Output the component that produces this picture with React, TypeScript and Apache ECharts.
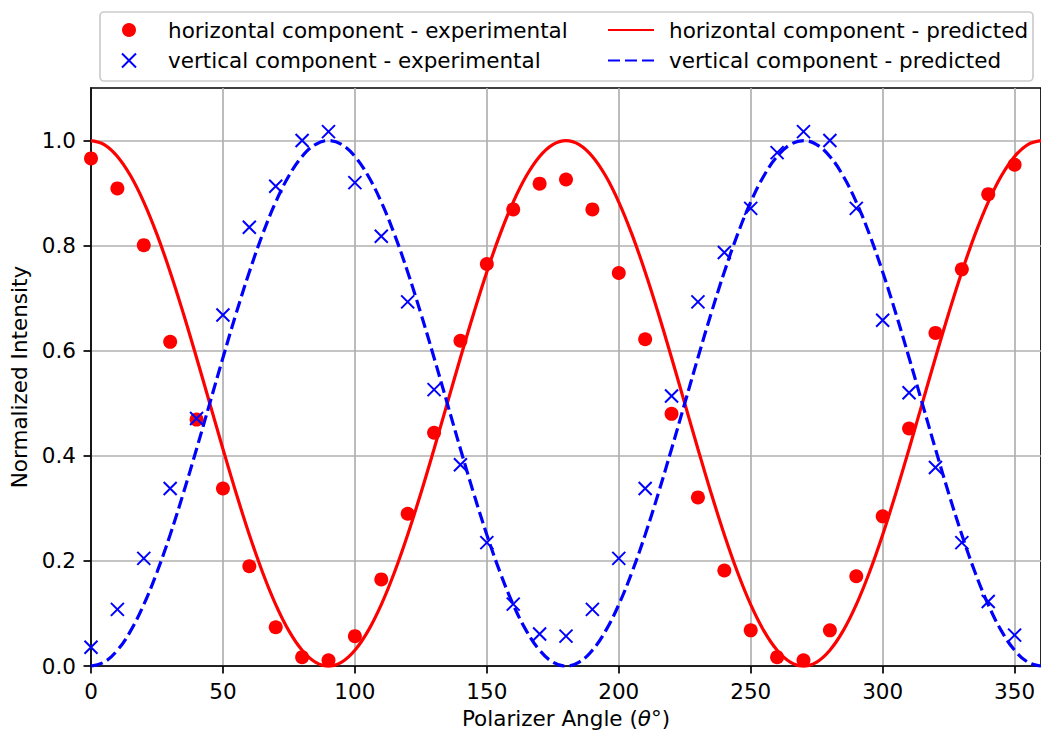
import React, { useEffect, useRef } from "react";
import * as echarts from "echarts";

const angles = [0, 10, 20, 30, 40, 50, 60, 70, 80, 90, 100, 110, 120, 130, 140, 150, 160, 170, 180, 190, 200, 210, 220, 230, 240, 250, 260, 270, 280, 290, 300, 310, 320, 330, 340, 350];
const horizontalExp = [0.966, 0.909, 0.801, 0.617, 0.469, 0.338, 0.19, 0.074, 0.017, 0.011, 0.057, 0.165, 0.29, 0.444, 0.619, 0.765, 0.869, 0.918, 0.926, 0.869, 0.748, 0.622, 0.48, 0.321, 0.182, 0.068, 0.017, 0.011, 0.068, 0.171, 0.285, 0.452, 0.634, 0.755, 0.898, 0.954];
const verticalExp = [0.036, 0.108, 0.205, 0.338, 0.471, 0.668, 0.835, 0.913, 1.0, 1.017, 0.92, 0.818, 0.693, 0.526, 0.383, 0.235, 0.118, 0.061, 0.057, 0.108, 0.205, 0.338, 0.514, 0.693, 0.787, 0.871, 0.977, 1.017, 1.0, 0.871, 0.658, 0.52, 0.378, 0.235, 0.123, 0.059];

const predAngles = [0, 5, 10, 15, 20, 25, 30, 35, 40, 45, 50, 55, 60, 65, 70, 75, 80, 85, 90, 95, 100, 105, 110, 115, 120, 125, 130, 135, 140, 145, 150, 155, 160, 165, 170, 175, 180, 185, 190, 195, 200, 205, 210, 215, 220, 225, 230, 235, 240, 245, 250, 255, 260, 265, 270, 275, 280, 285, 290, 295, 300, 305, 310, 315, 320, 325, 330, 335, 340, 345, 350, 355, 360];
const horizontalPred = [1.0, 0.9924, 0.9698, 0.933, 0.883, 0.8214, 0.75, 0.671, 0.5868, 0.5, 0.4132, 0.329, 0.25, 0.1786, 0.117, 0.067, 0.0302, 0.0076, 0.0, 0.0076, 0.0302, 0.067, 0.117, 0.1786, 0.25, 0.329, 0.4132, 0.5, 0.5868, 0.671, 0.75, 0.8214, 0.883, 0.933, 0.9698, 0.9924, 1.0, 0.9924, 0.9698, 0.933, 0.883, 0.8214, 0.75, 0.671, 0.5868, 0.5, 0.4132, 0.329, 0.25, 0.1786, 0.117, 0.067, 0.0302, 0.0076, 0.0, 0.0076, 0.0302, 0.067, 0.117, 0.1786, 0.25, 0.329, 0.4132, 0.5, 0.5868, 0.671, 0.75, 0.8214, 0.883, 0.933, 0.9698, 0.9924, 1.0];
const verticalPred = [0.0, 0.0076, 0.0302, 0.067, 0.117, 0.1786, 0.25, 0.329, 0.4132, 0.5, 0.5868, 0.671, 0.75, 0.8214, 0.883, 0.933, 0.9698, 0.9924, 1.0, 0.9924, 0.9698, 0.933, 0.883, 0.8214, 0.75, 0.671, 0.5868, 0.5, 0.4132, 0.329, 0.25, 0.1786, 0.117, 0.067, 0.0302, 0.0076, 0.0, 0.0076, 0.0302, 0.067, 0.117, 0.1786, 0.25, 0.329, 0.4132, 0.5, 0.5868, 0.671, 0.75, 0.8214, 0.883, 0.933, 0.9698, 0.9924, 1.0, 0.9924, 0.9698, 0.933, 0.883, 0.8214, 0.75, 0.671, 0.5868, 0.5, 0.4132, 0.329, 0.25, 0.1786, 0.117, 0.067, 0.0302, 0.0076, 0.0];

const xTicks = [0, 50, 100, 150, 200, 250, 300, 350];
const yTicks = [0, 0.2, 0.4, 0.6, 0.8, 1.0];

const seriesNames = [
  "horizontal component - experimental",
  "vertical component - experimental",
  "horizontal component - predicted",
  "vertical component - predicted",
];

const FONT = "DejaVu Sans";
const FS = 21.5;
const X_PATH = "path://M0,0L12,12M12,0L0,12";

export default function App() {
  const ref = useRef<HTMLDivElement>(null);
  useEffect(() => {
    if (!ref.current) return;
    const chart = echarts.init(ref.current, null, { renderer: "svg" });
    const pair = (xs: number[], ys: number[]) => xs.map((x, i) => [x, ys[i]]);
    const axisCommon = {
      axisLine: { show: true, lineStyle: { color: "#000", width: 1.7 } },
      axisTick: { show: true, length: 7.5, inside: false, lineStyle: { color: "#000", width: 1.7 } },
      splitLine: { show: true, lineStyle: { color: "#b0b0b0", width: 1.7 } },
    };
    const legendText = (gap: number) => ({
      fontFamily: FONT,
      fontSize: FS,
      color: "#000",
      lineHeight: FS,
      rich: { g: { width: gap, fontSize: FS, lineHeight: FS } },
    });
    chart.setOption({
      animation: false,
      backgroundColor: "#fff",
      textStyle: { fontFamily: FONT },
      grid: { left: 91, right: -1, top: 88, bottom: 66, show: true, borderColor: "#000", borderWidth: 1.7, containLabel: false },
      graphic: [
        {
          type: "rect",
          shape: { x: 100, y: 12, width: 933, height: 69, r: 4 },
          style: { fill: "rgba(255,255,255,0.8)", stroke: "#cccccc", lineWidth: 1.7 },
          z: 10,
        },
      ],
      legend: [
        {
          orient: "vertical",
          left: 121,
          top: 19,
          padding: 0,
          itemWidth: 46,
          itemHeight: 14,
          itemGap: 8.5,
          z: 20,
          formatter: (name: string) => "{g| }" + name,
          data: [
            { name: seriesNames[0], icon: "circle" },
            { name: seriesNames[1], icon: X_PATH },
          ],
          textStyle: legendText(11),
        },
        {
          orient: "vertical",
          left: 607,
          top: 19,
          padding: 0,
          itemWidth: 46,
          itemHeight: 14,
          itemGap: 8.5,
          z: 20,
          formatter: (name: string) => "{g| }" + name,
          data: [
            { name: seriesNames[2], itemStyle: { opacity: 0 } },
            { name: seriesNames[3], itemStyle: { opacity: 0 } },
          ],
          textStyle: legendText(10),
        },
      ],
      xAxis: {
        type: "value",
        min: 0,
        max: 360,
        interval: 50,
        ...axisCommon,
        axisTick: { ...axisCommon.axisTick, customValues: xTicks },
        axisLabel: { customValues: xTicks, fontFamily: FONT, fontSize: FS, color: "#000", margin: 14 },
        name: "{a|Polarizer Angle (}{i|θ}{a|°)}",
        nameLocation: "middle",
        nameGap: 30,
        nameTextStyle: {
          rich: {
            a: { fontFamily: FONT, fontSize: FS, color: "#000" },
            i: { fontFamily: FONT, fontSize: FS, color: "#000", fontStyle: "italic" },
          },
        },
      },
      yAxis: {
        type: "value",
        min: 0,
        max: 1.1,
        interval: 0.2,
        ...axisCommon,
        axisTick: { ...axisCommon.axisTick, customValues: yTicks },
        axisLabel: {
          customValues: yTicks,
          fontFamily: FONT,
          fontSize: FS,
          color: "#000",
          margin: 15,
          formatter: (v: number) => v.toFixed(1),
        },
        name: "Normalized Intensity",
        nameLocation: "middle",
        nameGap: 54,
        nameTextStyle: { fontFamily: FONT, fontSize: FS, color: "#000" },
      },
      series: [
        {
          name: seriesNames[0],
          type: "scatter",
          data: pair(angles, horizontalExp),
          symbol: "circle",
          symbolSize: 14,
          itemStyle: { color: "#ff0000", opacity: 1 },
          z: 2,
        },
        {
          name: seriesNames[1],
          type: "scatter",
          data: pair(angles, verticalExp),
          symbol: X_PATH,
          symbolSize: 13,
          itemStyle: { color: "#0000ff", borderColor: "#0000ff", borderWidth: 2, opacity: 1 },
          z: 2,
        },
        {
          name: seriesNames[2],
          type: "line",
          data: pair(predAngles, horizontalPred),
          symbol: "none",
          showSymbol: false,
          smooth: 0.4,
          lineStyle: { color: "#ff0000", width: 3.2 },
          itemStyle: { color: "#ff0000" },
          z: 3,
        },
        {
          name: seriesNames[3],
          type: "line",
          data: pair(predAngles, verticalPred),
          symbol: "none",
          showSymbol: false,
          smooth: 0.4,
          lineStyle: { color: "#0000ff", width: 3.2, type: [12, 5] },
          itemStyle: { color: "#0000ff" },
          z: 3,
        },
      ],
    });
    return () => chart.dispose();
  }, []);
  return (
    <div
      ref={ref}
      style={{ position: "absolute", left: 0, top: 0, width: 1041, height: 734 }}
    />
  );
}
